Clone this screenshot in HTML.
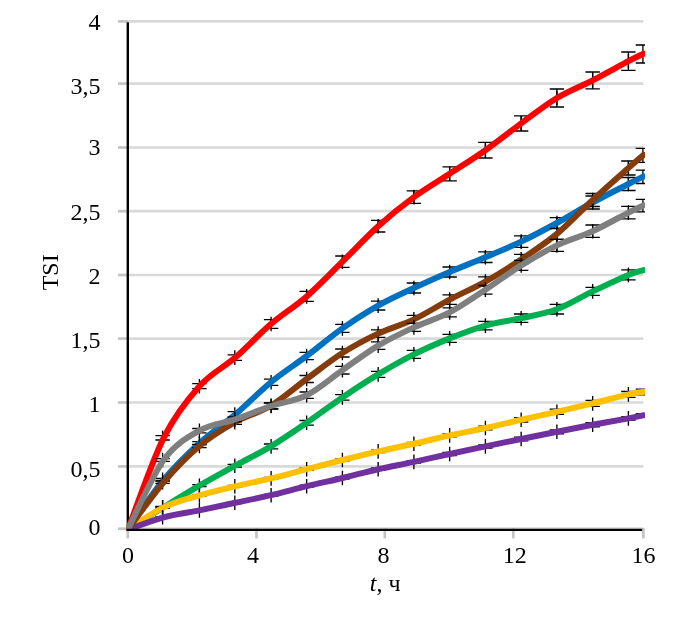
<!DOCTYPE html>
<html lang="ru"><head><meta charset="utf-8"><title>TSI</title>
<style>html,body{margin:0;padding:0;background:#fff}body{width:699px;height:625px;overflow:hidden;position:relative;font-family:"Liberation Serif",serif}svg{position:absolute;left:0;top:0;display:block}text{font-family:"Liberation Serif",serif;fill:#000}</style></head><body>
<svg width="699" height="625" viewBox="0 0 699 625">
<rect width="699" height="625" fill="#fff"/>
<g stroke="#D9D9D9" stroke-width="2.7" fill="none">
<line x1="128" y1="21.40" x2="643.4" y2="21.40"/>
<line x1="128" y1="83.60" x2="643.4" y2="83.60"/>
<line x1="128" y1="147.50" x2="643.4" y2="147.50"/>
<line x1="128" y1="211.20" x2="643.4" y2="211.20"/>
<line x1="128" y1="275.00" x2="643.4" y2="275.00"/>
<line x1="128" y1="338.60" x2="643.4" y2="338.60"/>
<line x1="128" y1="402.50" x2="643.4" y2="402.50"/>
<line x1="128" y1="466.40" x2="643.4" y2="466.40"/>
<line x1="128" y1="528.70" x2="643.4" y2="528.70"/>
</g>
<g stroke="#C4C4C4" stroke-width="2.7" fill="none">
<line x1="118" y1="21.40" x2="128" y2="21.40"/>
<line x1="118" y1="83.60" x2="128" y2="83.60"/>
<line x1="118" y1="147.50" x2="128" y2="147.50"/>
<line x1="118" y1="211.20" x2="128" y2="211.20"/>
<line x1="118" y1="275.00" x2="128" y2="275.00"/>
<line x1="118" y1="338.60" x2="128" y2="338.60"/>
<line x1="118" y1="402.50" x2="128" y2="402.50"/>
<line x1="118" y1="466.40" x2="128" y2="466.40"/>
<line x1="118" y1="528.70" x2="128" y2="528.70"/>
<line x1="127.80" y1="528" x2="127.80" y2="538.4"/>
<line x1="256.45" y1="528" x2="256.45" y2="538.4"/>
<line x1="384.80" y1="528" x2="384.80" y2="538.4"/>
<line x1="513.30" y1="528" x2="513.30" y2="538.4"/>
<line x1="643.40" y1="528" x2="643.40" y2="538.4"/>
</g>
<g stroke="#000" stroke-width="2.4" fill="none"><line x1="127.8" y1="22.2" x2="127.8" y2="531" /></g>
<defs><clipPath id="pc"><rect x="126.6" y="0" width="518.4" height="530.9"/></clipPath></defs>
<g clip-path="url(#pc)">
<path d="M162.60,430.50V445.10M199.40,378.90V393.50M234.80,350.30V364.90M271.10,316.70V331.30M306.65,289.10V303.70M342.40,254.40V269.00M378.15,218.90V233.50M413.90,189.80V204.40M449.65,166.50V181.10M485.40,142.90V157.50M521.15,116.10V130.70M556.90,90.70V105.30M592.65,73.10V87.70M628.40,53.90V68.50" stroke="#000" stroke-width="1.35" fill="none"/>
<path d="M162.60,435.60V440.00M155.40,435.60H169.80M155.40,440.00H169.80M199.40,383.70V388.70M192.20,383.70H206.60M192.20,388.70H206.60M234.80,354.90V360.30M227.60,354.90H242.00M227.60,360.30H242.00M271.10,319.70V328.30M263.90,319.70H278.30M263.90,328.30H278.30M306.65,291.40V301.40M299.45,291.40H313.85M299.45,301.40H313.85M342.40,256.00V267.40M335.20,256.00H349.60M335.20,267.40H349.60M378.15,220.40V232.00M370.95,220.40H385.35M370.95,232.00H385.35M413.90,190.80V203.40M406.70,190.80H421.10M406.70,203.40H421.10M449.65,166.80V180.80M442.45,166.80H456.85M442.45,180.80H456.85M485.40,142.40V158.00M478.20,142.40H492.60M478.20,158.00H492.60M521.15,115.80V131.00M513.95,115.80H528.35M513.95,131.00H528.35M556.90,89.00V107.00M549.70,89.00H564.10M549.70,107.00H564.10M592.65,72.00V88.80M585.45,72.00H599.85M585.45,88.80H599.85M628.40,52.00V70.40M621.20,52.00H635.60M621.20,70.40H635.60M642.90,45.00V63.00M635.70,45.00H650.10M635.70,63.00H650.10" stroke="#000" stroke-width="1.30" fill="none"/>
<path d="M127.90,529.50 C133.86,514.22 151.73,461.68 163.65,437.80 C175.57,413.92 187.48,399.57 199.40,386.20 C211.32,372.83 223.23,367.97 235.15,357.60 C247.07,347.23 258.98,334.20 270.90,324.00 C282.82,313.80 294.73,306.78 306.65,296.40 C318.57,286.02 330.48,273.40 342.40,261.70 C354.32,250.00 366.23,236.97 378.15,226.20 C390.07,215.43 401.98,205.83 413.90,197.10 C425.82,188.37 437.73,181.62 449.65,173.80 C461.57,165.98 473.48,158.60 485.40,150.20 C497.32,141.80 509.23,132.10 521.15,123.40 C533.07,114.70 544.98,105.17 556.90,98.00 C568.82,90.83 580.73,86.53 592.65,80.40 C604.57,74.27 620.02,65.60 628.40,61.20 C636.77,56.80 640.48,55.20 642.90,54.00 L643.50,53.70" stroke="#FF0000" stroke-width="6.00" fill="none" stroke-linecap="round" stroke-linejoin="round"/>
<path d="M162.60,472.40V487.00M199.40,435.90V450.50M234.80,407.30V421.90M271.10,374.90V389.50M306.65,348.70V363.30M342.40,321.10V335.70M378.15,298.30V312.90M413.90,280.70V295.30M449.65,264.70V279.30M485.40,249.90V264.50M521.15,234.30V248.90M556.90,215.70V230.30M592.65,195.20V209.80M628.40,176.70V191.30" stroke="#000" stroke-width="1.35" fill="none"/>
<path d="M162.60,478.50V480.90M155.40,478.50H169.80M155.40,480.90H169.80M199.40,441.60V444.80M192.20,441.60H206.60M192.20,444.80H206.60M234.80,411.60V417.60M227.60,411.60H242.00M227.60,417.60H242.00M271.10,379.10V385.30M263.90,379.10H278.30M263.90,385.30H278.30M306.65,352.40V359.60M299.45,352.40H313.85M299.45,359.60H313.85M342.40,324.40V332.40M335.20,324.40H349.60M335.20,332.40H349.60M378.15,301.20V310.00M370.95,301.20H385.35M370.95,310.00H385.35M413.90,283.00V293.00M406.70,283.00H421.10M406.70,293.00H421.10M449.65,267.00V277.00M442.45,267.00H456.85M442.45,277.00H456.85M485.40,251.90V262.50M478.20,251.90H492.60M478.20,262.50H492.60M521.15,235.85V247.35M513.95,235.85H528.35M513.95,247.35H528.35M556.90,217.55V228.45M549.70,217.55H564.10M549.70,228.45H564.10M592.65,196.00V209.00M585.45,196.00H599.85M585.45,209.00H599.85M628.40,177.50V190.50M621.20,177.50H635.60M621.20,190.50H635.60M642.90,170.10V183.50M635.70,170.10H650.10M635.70,183.50H650.10" stroke="#000" stroke-width="1.30" fill="none"/>
<path d="M127.90,529.50 C133.86,521.20 151.73,494.08 163.65,479.70 C175.57,465.32 187.48,454.05 199.40,443.20 C211.32,432.35 223.23,424.77 235.15,414.60 C247.07,404.43 258.98,391.97 270.90,382.20 C282.82,372.43 294.73,364.97 306.65,356.00 C318.57,347.03 330.48,336.80 342.40,328.40 C354.32,320.00 366.23,312.33 378.15,305.60 C390.07,298.87 401.98,293.60 413.90,288.00 C425.82,282.40 437.73,277.13 449.65,272.00 C461.57,266.87 473.48,262.27 485.40,257.20 C497.32,252.13 509.23,247.30 521.15,241.60 C533.07,235.90 544.98,229.52 556.90,223.00 C568.82,216.48 580.73,209.00 592.65,202.50 C604.57,196.00 620.02,188.28 628.40,184.00 C636.77,179.72 640.48,178.00 642.90,176.80 L643.50,176.50" stroke="#0070C0" stroke-width="6.00" fill="none" stroke-linecap="round" stroke-linejoin="round"/>
<path d="M162.60,499.90V514.50M199.40,478.40V493.00M234.80,458.40V473.00M271.10,439.10V453.70M306.65,415.50V430.10M342.40,390.10V404.70M378.15,367.10V381.70M413.90,347.10V361.70M449.65,331.10V345.70M485.40,318.30V332.90M521.15,310.90V325.50M556.90,301.90V316.50M592.65,284.10V298.70M628.40,267.60V282.20" stroke="#000" stroke-width="1.35" fill="none"/>
<path d="M162.60,506.40V508.00M155.40,506.40H169.80M155.40,508.00H169.80M199.40,484.70V486.70M192.20,484.70H206.60M192.20,486.70H206.60M234.80,464.30V467.10M227.60,464.30H242.00M227.60,467.10H242.00M271.10,444.00V448.80M263.90,444.00H278.30M263.90,448.80H278.30M306.65,420.50V425.10M299.45,420.50H313.85M299.45,425.10H313.85M342.40,394.70V400.10M335.20,394.70H349.60M335.20,400.10H349.60M378.15,371.40V377.40M370.95,371.40H385.35M370.95,377.40H385.35M413.90,350.40V358.40M406.70,350.40H421.10M406.70,358.40H421.10M449.65,334.40V342.40M442.45,334.40H456.85M442.45,342.40H456.85M485.40,321.40V329.80M478.20,321.40H492.60M478.20,329.80H492.60M521.15,314.00V322.40M513.95,314.00H528.35M513.95,322.40H528.35M556.90,304.40V314.00M549.70,304.40H564.10M549.70,314.00H564.10M592.65,287.40V295.40M585.45,287.40H599.85M585.45,295.40H599.85M628.40,269.90V279.90M621.20,269.90H635.60M621.20,279.90H635.60" stroke="#000" stroke-width="1.30" fill="none"/>
<path d="M127.90,529.50 C133.86,525.78 151.73,514.50 163.65,507.20 C175.57,499.90 187.48,492.62 199.40,485.70 C211.32,478.78 223.23,472.25 235.15,465.70 C247.07,459.15 258.98,453.55 270.90,446.40 C282.82,439.25 294.73,430.97 306.65,422.80 C318.57,414.63 330.48,405.47 342.40,397.40 C354.32,389.33 366.23,381.57 378.15,374.40 C390.07,367.23 401.98,360.40 413.90,354.40 C425.82,348.40 437.73,343.20 449.65,338.40 C461.57,333.60 473.48,328.97 485.40,325.60 C497.32,322.23 509.23,320.93 521.15,318.20 C533.07,315.47 544.98,313.67 556.90,309.20 C568.82,304.73 580.73,297.12 592.65,291.40 C604.57,285.68 620.02,278.42 628.40,274.90 C636.77,271.38 640.48,271.07 642.90,270.30 L643.50,270.11" stroke="#00B050" stroke-width="6.00" fill="none" stroke-linecap="round" stroke-linejoin="round"/>
<path d="M162.60,500.10V514.70M199.40,488.10V502.70M234.80,479.00V493.60M271.10,471.10V485.70M306.65,461.90V476.50M342.40,452.70V467.30M378.15,444.10V458.70M413.90,436.50V451.10M449.65,428.10V442.70M485.40,420.70V435.30M521.15,412.50V427.10M556.90,404.50V419.10M592.65,396.10V410.70M628.40,387.10V401.70" stroke="#000" stroke-width="1.35" fill="none"/>
<path d="M162.60,506.60V508.20M155.40,506.60H169.80M155.40,508.20H169.80M199.40,494.60V496.20M192.20,494.60H206.60M192.20,496.20H206.60M234.80,485.40V487.20M227.60,485.40H242.00M227.60,487.20H242.00M271.10,477.40V479.40M263.90,477.40H278.30M263.90,479.40H278.30M306.65,468.10V470.30M299.45,468.10H313.85M299.45,470.30H313.85M342.40,458.80V461.20M335.20,458.80H349.60M335.20,461.20H349.60M378.15,450.10V452.70M370.95,450.10H385.35M370.95,452.70H385.35M413.90,442.40V445.20M406.70,442.40H421.10M406.70,445.20H421.10M449.65,434.00V436.80M442.45,434.00H456.85M442.45,436.80H456.85M485.40,426.20V429.80M478.20,426.20H492.60M478.20,429.80H492.60M521.15,417.60V422.00M513.95,417.60H528.35M513.95,422.00H528.35M556.90,409.20V414.40M549.70,409.20H564.10M549.70,414.40H564.10M592.65,400.40V406.40M585.45,400.40H599.85M585.45,406.40H599.85M628.40,391.50V397.30M621.20,391.50H635.60M621.20,397.30H635.60M642.90,389.10V394.90M635.70,389.10H650.10M635.70,394.90H650.10" stroke="#000" stroke-width="1.30" fill="none"/>
<path d="M127.90,529.50 C133.86,525.82 151.73,513.08 163.65,507.40 C175.57,501.72 187.48,498.92 199.40,495.40 C211.32,491.88 223.23,489.13 235.15,486.30 C247.07,483.47 258.98,481.25 270.90,478.40 C282.82,475.55 294.73,472.27 306.65,469.20 C318.57,466.13 330.48,462.97 342.40,460.00 C354.32,457.03 366.23,454.10 378.15,451.40 C390.07,448.70 401.98,446.47 413.90,443.80 C425.82,441.13 437.73,438.03 449.65,435.40 C461.57,432.77 473.48,430.60 485.40,428.00 C497.32,425.40 509.23,422.50 521.15,419.80 C533.07,417.10 544.98,414.53 556.90,411.80 C568.82,409.07 580.73,406.30 592.65,403.40 C604.57,400.50 620.02,396.30 628.40,394.40 C636.77,392.50 640.48,392.40 642.90,392.00 L643.50,391.90" stroke="#FFC000" stroke-width="6.00" fill="none" stroke-linecap="round" stroke-linejoin="round"/>
<path d="M162.60,510.00V524.60M199.40,503.10V517.70M234.80,495.50V510.10M271.10,487.90V502.50M306.65,478.90V493.50M342.40,470.70V485.30M378.15,461.90V476.50M413.90,454.60V469.20M449.65,446.70V461.30M485.40,439.10V453.70M521.15,431.70V446.30M556.90,424.50V439.10M592.65,417.50V432.10M628.40,411.10V425.70" stroke="#000" stroke-width="1.35" fill="none"/>
<path d="M162.60,516.90V517.70M155.40,516.90H169.80M155.40,517.70H169.80M199.40,509.90V510.90M192.20,509.90H206.60M192.20,510.90H206.60M234.80,502.10V503.50M227.60,502.10H242.00M227.60,503.50H242.00M271.10,494.30V496.10M263.90,494.30H278.30M263.90,496.10H278.30M306.65,485.20V487.20M299.45,485.20H313.85M299.45,487.20H313.85M342.40,476.90V479.10M335.20,476.90H349.60M335.20,479.10H349.60M378.15,468.00V470.40M370.95,468.00H385.35M370.95,470.40H385.35M413.90,460.60V463.20M406.70,460.60H421.10M406.70,463.20H421.10M449.65,452.50V455.50M442.45,452.50H456.85M442.45,455.50H456.85M485.40,444.80V448.00M478.20,444.80H492.60M478.20,448.00H492.60M521.15,437.20V440.80M513.95,437.20H528.35M513.95,440.80H528.35M556.90,429.80V433.80M549.70,429.80H564.10M549.70,433.80H564.10M592.65,422.70V426.90M585.45,422.70H599.85M585.45,426.90H599.85M628.40,416.60V420.20M621.20,416.60H635.60M621.20,420.20H635.60M642.90,413.60V417.20M635.70,413.60H650.10M635.70,417.20H650.10" stroke="#000" stroke-width="1.30" fill="none"/>
<path d="M127.90,529.50 C133.86,527.47 151.73,520.48 163.65,517.30 C175.57,514.12 187.48,512.82 199.40,510.40 C211.32,507.98 223.23,505.33 235.15,502.80 C247.07,500.27 258.98,497.97 270.90,495.20 C282.82,492.43 294.73,489.07 306.65,486.20 C318.57,483.33 330.48,480.83 342.40,478.00 C354.32,475.17 366.23,471.88 378.15,469.20 C390.07,466.52 401.98,464.43 413.90,461.90 C425.82,459.37 437.73,456.58 449.65,454.00 C461.57,451.42 473.48,448.90 485.40,446.40 C497.32,443.90 509.23,441.43 521.15,439.00 C533.07,436.57 544.98,434.17 556.90,431.80 C568.82,429.43 580.73,427.03 592.65,424.80 C604.57,422.57 620.02,419.97 628.40,418.40 C636.77,416.83 640.48,415.90 642.90,415.40 L643.50,415.28" stroke="#7030A0" stroke-width="6.00" fill="none" stroke-linecap="round" stroke-linejoin="round"/>
<path d="M162.60,474.90V489.50M199.40,438.70V453.30M234.80,414.90V429.50M271.10,398.50V413.10M306.65,371.70V386.30M342.40,345.70V360.30M378.15,326.30V340.90M413.90,312.10V326.70M449.65,292.30V306.90M485.40,274.30V288.90M521.15,252.10V266.70M556.90,226.60V241.20M592.65,192.70V207.30M628.40,160.70V175.30" stroke="#000" stroke-width="1.35" fill="none"/>
<path d="M162.60,481.00V483.40M155.40,481.00H169.80M155.40,483.40H169.80M199.40,444.30V447.70M192.20,444.30H206.60M192.20,447.70H206.60M234.80,420.00V424.40M227.60,420.00H242.00M227.60,424.40H242.00M271.10,402.80V408.80M263.90,402.80H278.30M263.90,408.80H278.30M306.65,375.50V382.50M299.45,375.50H313.85M299.45,382.50H313.85M342.40,349.00V357.00M335.20,349.00H349.60M335.20,357.00H349.60M378.15,329.90V337.30M370.95,329.90H385.35M370.95,337.30H385.35M413.90,315.40V323.40M406.70,315.40H421.10M406.70,323.40H421.10M449.65,294.90V304.30M442.45,294.90H456.85M442.45,304.30H456.85M485.40,276.90V286.30M478.20,276.90H492.60M478.20,286.30H492.60M521.15,254.40V264.40M513.95,254.40H528.35M513.95,264.40H528.35M556.90,228.50V239.30M549.70,228.50H564.10M549.70,239.30H564.10M592.65,193.50V206.50M585.45,193.50H599.85M585.45,206.50H599.85M628.40,161.00V175.00M621.20,161.00H635.60M621.20,175.00H635.60M642.90,148.40V162.40M635.70,148.40H650.10M635.70,162.40H650.10" stroke="#000" stroke-width="1.30" fill="none"/>
<path d="M127.90,529.50 C133.86,521.62 151.73,496.12 163.65,482.20 C175.57,468.28 187.48,456.00 199.40,446.00 C211.32,436.00 223.23,428.90 235.15,422.20 C247.07,415.50 258.98,413.00 270.90,405.80 C282.82,398.60 294.73,387.80 306.65,379.00 C318.57,370.20 330.48,360.57 342.40,353.00 C354.32,345.43 366.23,339.20 378.15,333.60 C390.07,328.00 401.98,325.07 413.90,319.40 C425.82,313.73 437.73,305.90 449.65,299.60 C461.57,293.30 473.48,288.30 485.40,281.60 C497.32,274.90 509.23,267.35 521.15,259.40 C533.07,251.45 544.98,243.80 556.90,233.90 C568.82,224.00 580.73,210.98 592.65,200.00 C604.57,189.02 620.02,175.43 628.40,168.00 C636.77,160.57 640.48,157.50 642.90,155.40 L643.50,154.88" stroke="#843C0C" stroke-width="6.00" fill="none" stroke-linecap="round" stroke-linejoin="round"/>
<path d="M162.60,452.70V467.30M199.40,423.40V438.00M234.80,412.10V426.70M271.10,398.70V413.30M306.65,387.90V402.50M342.40,362.90V377.50M378.15,338.30V352.90M413.90,320.10V334.70M449.65,305.10V319.70M485.40,282.50V297.10M521.15,258.10V272.70M556.90,238.10V252.70M592.65,223.90V238.50M628.40,205.30V219.90" stroke="#000" stroke-width="1.35" fill="none"/>
<path d="M162.60,458.70V461.30M155.40,458.70H169.80M155.40,461.30H169.80M199.40,428.50V432.90M192.20,428.50H206.60M192.20,432.90H206.60M234.80,416.90V421.90M227.60,416.90H242.00M227.60,421.90H242.00M271.10,403.00V409.00M263.90,403.00H278.30M263.90,409.00H278.30M306.65,392.00V398.40M299.45,392.00H313.85M299.45,398.40H313.85M342.40,366.40V374.00M335.20,366.40H349.60M335.20,374.00H349.60M378.15,341.90V349.30M370.95,341.90H385.35M370.95,349.30H385.35M413.90,323.40V331.40M406.70,323.40H421.10M406.70,331.40H421.10M449.65,307.90V316.90M442.45,307.90H456.85M442.45,316.90H456.85M485.40,285.50V294.10M478.20,285.50H492.60M478.20,294.10H492.60M521.15,260.40V270.40M513.95,260.40H528.35M513.95,270.40H528.35M556.90,239.40V251.40M549.70,239.40H564.10M549.70,251.40H564.10M592.65,225.00V237.40M585.45,225.00H599.85M585.45,237.40H599.85M628.40,206.30V218.90M621.20,206.30H635.60M621.20,218.90H635.60M642.90,199.30V211.90M635.70,199.30H650.10M635.70,211.90H650.10" stroke="#000" stroke-width="1.30" fill="none"/>
<path d="M127.90,529.50 C133.86,517.92 151.73,476.47 163.65,460.00 C175.57,443.53 187.48,437.47 199.40,430.70 C211.32,423.93 223.23,423.52 235.15,419.40 C247.07,415.28 258.98,410.03 270.90,406.00 C282.82,401.97 294.73,401.17 306.65,395.20 C318.57,389.23 330.48,378.47 342.40,370.20 C354.32,361.93 366.23,352.73 378.15,345.60 C390.07,338.47 401.98,332.93 413.90,327.40 C425.82,321.87 437.73,318.67 449.65,312.40 C461.57,306.13 473.48,297.63 485.40,289.80 C497.32,281.97 509.23,272.80 521.15,265.40 C533.07,258.00 544.98,251.10 556.90,245.40 C568.82,239.70 580.73,236.67 592.65,231.20 C604.57,225.73 620.02,216.87 628.40,212.60 C636.77,208.33 640.48,206.77 642.90,205.60 L643.50,205.31" stroke="#7F7F7F" stroke-width="6.00" fill="none" stroke-linecap="round" stroke-linejoin="round"/>
</g>
<line x1="126.6" y1="529.85" x2="642.2" y2="529.85" stroke="#000" stroke-width="2.3" fill="none"/>
<g font-size="24" text-anchor="end">
<text x="100.4" y="30.10">4</text>
<text x="100.4" y="94.10">3,5</text>
<text x="100.4" y="155.10">3</text>
<text x="100.4" y="219.90">2,5</text>
<text x="100.4" y="284.00">2</text>
<text x="100.4" y="347.70">1,5</text>
<text x="100.4" y="411.50">1</text>
<text x="100.4" y="477.20">0,5</text>
<text x="100.4" y="535.10">0</text>
</g>
<g font-size="24" text-anchor="middle">
<text x="127.90" y="563">0</text>
<text x="253.10" y="563">4</text>
<text x="383.50" y="563">8</text>
<text x="514.80" y="563">12</text>
<text x="643.50" y="563">16</text>
</g>
<text font-size="24" x="385.2" y="590.8" text-anchor="middle"><tspan font-style="italic">t</tspan>, ч</text>
<text font-size="24" text-anchor="middle" transform="translate(58.4,272.3) rotate(-90)">TSI</text>
</svg></body></html>
